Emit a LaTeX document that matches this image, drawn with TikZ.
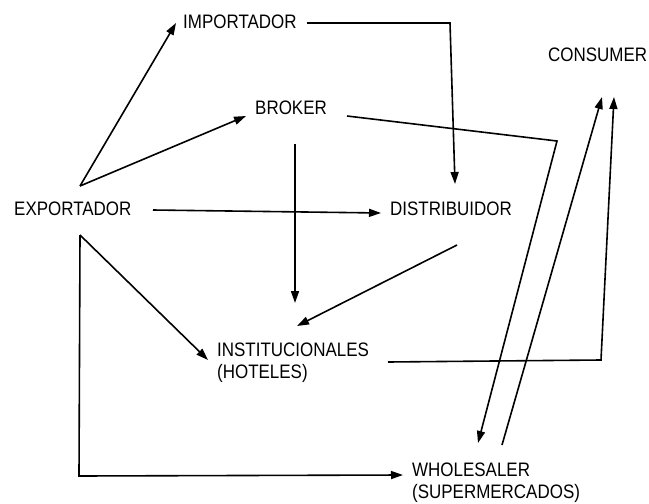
\documentclass[tikz,border=0pt]{standalone}
\usepackage{fontspec}
\setmainfont{Liberation Sans}[FakeStretch=0.87]
\usetikzlibrary{arrows.meta}
\begin{document}
\begin{tikzpicture}[x=1pt,y=-1pt,
  lbl/.style={inner sep=0pt, font=\fontsize{19.5}{22}\selectfont, align=left},
  conn/.style={line width=1.6pt, -{Triangle[length=12pt,width=8pt]}},
  plainline/.style={line width=1.6pt}]
\useasboundingbox[fill=white] (0,0) rectangle (649,504);
% nodes
\node[lbl,anchor=west] (imp) at (183,22) {IMPORTADOR};
\node[lbl,anchor=west] (bro) at (255,108) {BROKER};
\node[lbl,anchor=west] (exp) at (14,209) {EXPORTADOR};
\node[lbl,anchor=west] (con) at (548,55) {CONSUMER};
\node[lbl,anchor=west] (dis) at (390,209) {DISTRIBUIDOR};
\node[lbl,anchor=north west] (ins) at (217,343) {INSTITUCIONALES\\(HOTELES)};
\node[lbl,anchor=north west] (who) at (412,463) {WHOLESALER\\(SUPERMERCADOS)};
% connector end points
\coordinate (eTop) at (80,186);
\coordinate (eRight) at (153,210);
\coordinate (eBot) at (80,235);
\coordinate (impIn) at (176,23);
\coordinate (broIn) at (246,116);
\coordinate (disInW) at (381,213);
\coordinate (impOut) at (307,23);
\coordinate (impCorner) at (450,23);
\coordinate (disInN) at (455,184);
\coordinate (broOutE) at (347,116);
\coordinate (broCorner) at (557,141);
\coordinate (whoInN) at (478,443);
\coordinate (broOutS) at (295,144);
\coordinate (insInN) at (295,303);
\coordinate (disOut) at (457,245);
\coordinate (insInNE) at (297,326);
\coordinate (insInW) at (208,360);
\coordinate (eCorner) at (79,476);
\coordinate (whoInW) at (403,475);
\coordinate (insOut) at (388,362);
\coordinate (insCorner) at (601,360);
\coordinate (conIn2) at (614,97);
\coordinate (whoOut) at (502,445);
\coordinate (conIn1) at (602,97);
% connectors
\draw[conn] (eTop) -- (impIn);
\draw[conn] (eTop) -- (broIn);
\draw[conn] (eRight) -- (disInW);
\draw[conn] (impOut) -- (impCorner) -- (disInN);
\draw[conn] (broOutE) -- (broCorner) -- (whoInN);
\draw[conn] (broOutS) -- (insInN);
\draw[conn] (disOut) -- (insInNE);
\draw[conn] (eBot) -- (insInW);
\draw[conn] (eBot) -- (eCorner) -- (whoInW);
\draw[conn] (insOut) -- (insCorner) -- (conIn2);
\draw[conn] (whoOut) -- (conIn1);
\end{tikzpicture}
\end{document}
